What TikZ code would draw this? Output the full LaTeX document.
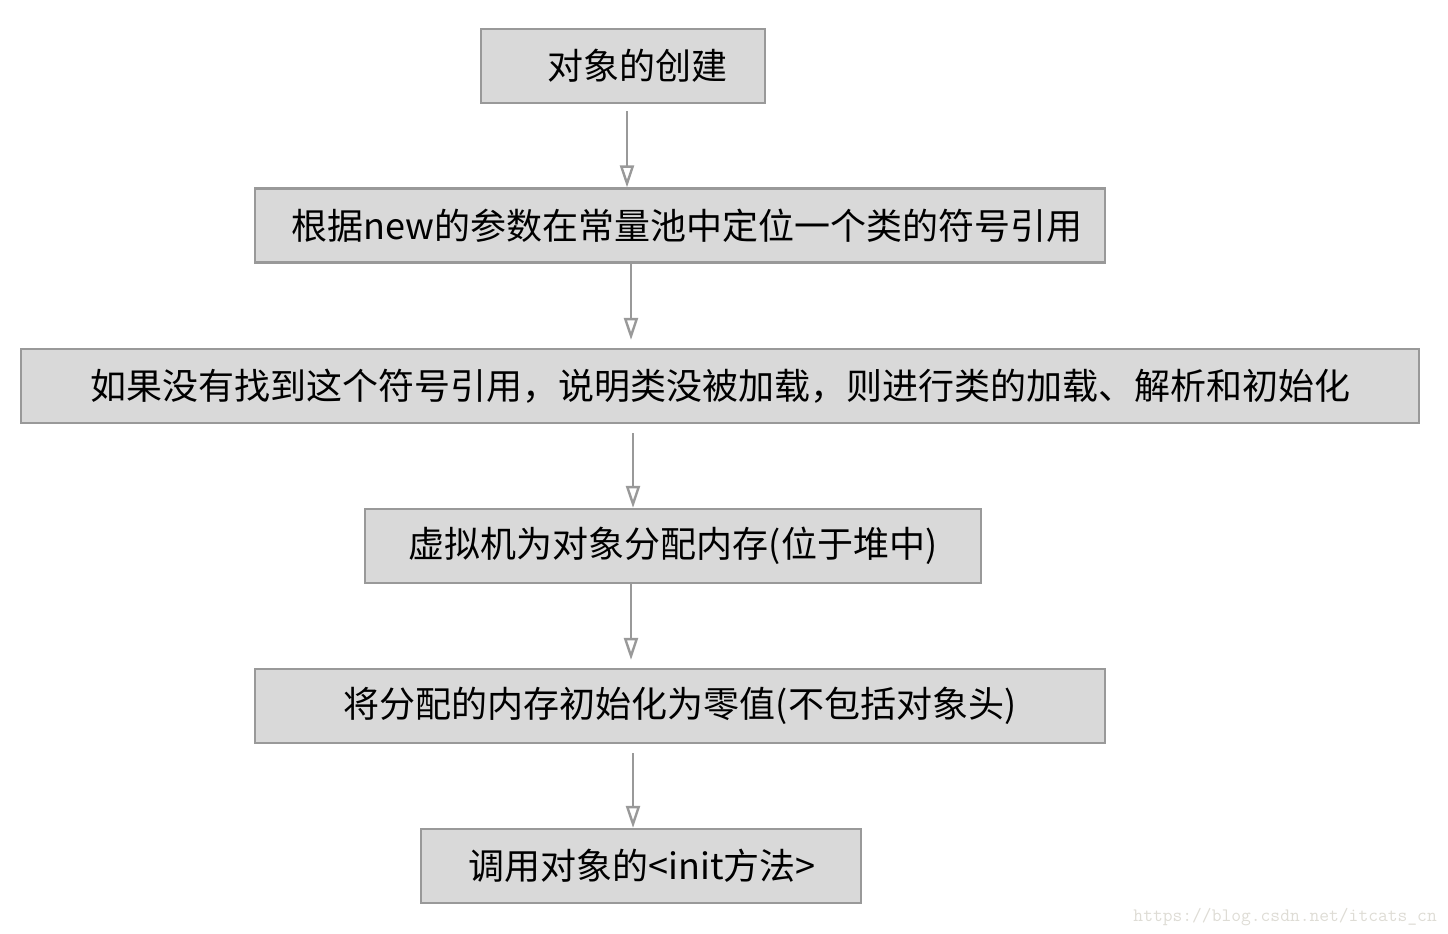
\documentclass[tikz,border=0pt]{standalone}
\usepackage{fontspec}
\newfontfamily\cjk{Noto Sans CJK SC}
\usetikzlibrary{arrows.meta}
\definecolor{boxfill}{HTML}{D9D9D9}
\definecolor{boxline}{HTML}{999999}
\definecolor{markgray}{HTML}{DEDCD5}

\begin{document}
\begin{tikzpicture}[x=1pt, y=-1pt,
    stepbox/.style={draw=boxline, fill=boxfill, line width=2.2pt, minimum height=74pt,
        inner sep=0pt, font=\cjk\fontsize{36}{40}\selectfont},
    flow/.style={draw=boxline, line width=2.4pt, -{Triangle[open, length=22pt, width=14pt, line width=2.4pt]}}]
    \useasboundingbox (0,0) rectangle (1448,934);

    % Define the positions of the boxes
    \coordinate (createPos) at (623, 66);
    \coordinate (symPos) at (680, 225.5);
    \coordinate (loadPos) at (720, 386);
    \coordinate (allocPos) at (673, 546);
    \coordinate (zeroPos) at (680, 706);
    \coordinate (initPos) at (641, 866);

    % Draw the boxes
    \node[stepbox, minimum width=284pt] (create) at (createPos) {\hspace*{28pt}对象的创建};
    \node[stepbox, minimum width=850pt] (sym) at (symPos) {\hspace*{14pt}根据new的参数在常量池中定位一个类的符号引用};
    \node[stepbox, minimum width=1398pt] (load) at (loadPos) {如果没有找到这个符号引用，说明类没被加载，则进行类的加载、解析和初始化};
    \node[stepbox, minimum width=616pt] (alloc) at (allocPos) {虚拟机为对象分配内存(位于堆中)};
    \node[stepbox, minimum width=850pt] (zero) at (zeroPos) {将分配的内存初始化为零值(不包括对象头)};
    \node[stepbox, minimum width=440pt] (init) at (initPos) {\hspace*{2pt}调用对象的<init方法>};

    % Draw the arrows
    \draw[flow] ([yshift=-7pt]create.south -| 627,0) -- (sym.north -| 627,0);
    \draw[flow] (sym.south -| 631,0) -- ([yshift=8pt]load.north -| 631,0);
    \draw[flow] ([yshift=-9pt]load.south -| 633,0) -- (alloc.north -| 633,0);
    \draw[flow] (alloc.south -| 631,0) -- ([yshift=8pt]zero.north -| 631,0);
    \draw[flow] ([yshift=-9pt]zero.south -| 633,0) -- (init.north -| 633,0);

    % watermark
    \node[anchor=base east, text=markgray, font=\ttfamily\fontsize{19}{20}\selectfont, inner sep=0pt] (mark) at (1437, 921) {https://blog.csdn.net/itcats\_cn};
\end{tikzpicture}
\end{document}
